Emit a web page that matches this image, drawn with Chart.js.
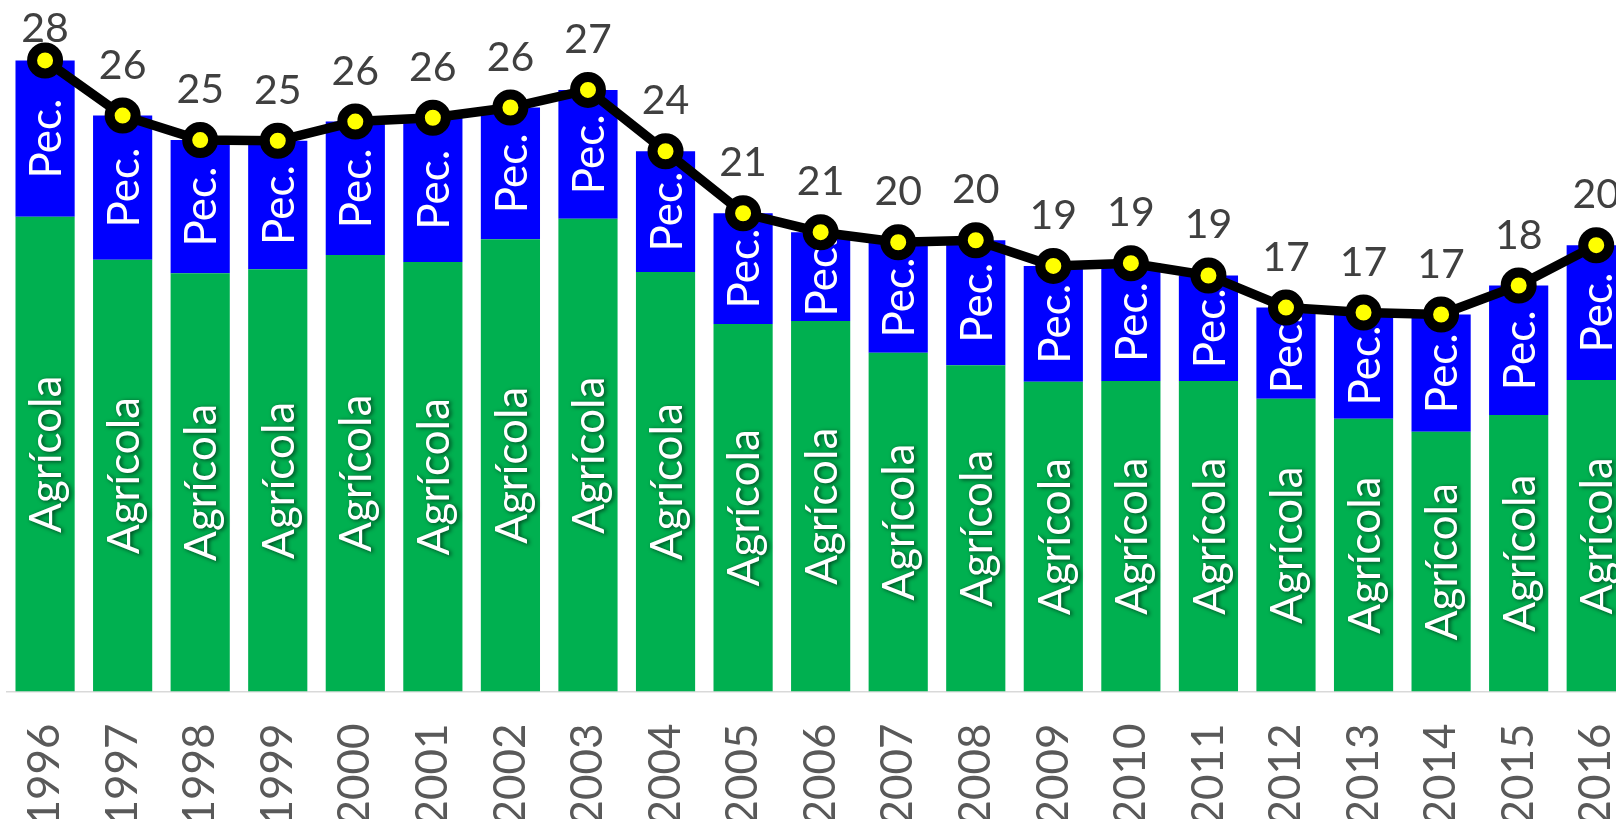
<!DOCTYPE html>
<html>
<head>
<meta charset="utf-8">
<script src="https://cdn.jsdelivr.net/npm/chart.js@4/dist/chart.umd.min.js"></script>
<style>
  html, body { margin: 0; padding: 0; background: #fff; overflow: hidden; }
  #wrap { position: relative; width: 1616px; height: 819px; overflow: hidden; }
  #chart { position: absolute; left: 0; top: 0; }
</style>
</head>
<body>
<div id="wrap"><canvas id="chart" width="1640" height="840"></canvas></div>
<script>
// --- datos ---
const years = ['1996', '1997', '1998', '1999', '2000', '2001', '2002', '2003', '2004', '2005',
  '2006', '2007', '2008', '2009', '2010', '2011', '2012', '2013', '2014', '2015', '2016'];
const agricola = [21.28, 19.36, 18.75, 18.93, 19.57, 19.26, 20.28, 21.19, 18.81, 16.48,
  16.61, 15.19, 14.63, 13.89, 13.92, 13.92, 13.12, 12.23, 11.64, 12.40, 13.96];
const pecuaria = [7.01, 6.46, 5.97, 5.76, 5.98, 6.46, 5.90, 5.78, 5.41, 4.96,
  3.98, 4.95, 5.60, 5.19, 5.28, 4.73, 4.09, 4.76, 5.26, 5.80, 6.05];
const total = [28.29, 25.82, 24.72, 24.69, 25.55, 25.72, 26.18, 26.97, 24.22, 21.44,
  20.59, 20.14, 20.23, 19.08, 19.20, 18.65, 17.21, 16.99, 16.90, 18.20, 20.01];

// rótulos dentro das barras (texto girado) e valores sobre a linha
const labelsPlugin = {
  id: 'rotulos',
  afterDatasetDraw(chart, args) {
    const ds = chart.data.datasets[args.index];
    if (ds.type === 'line') return;
    const ctx = chart.ctx;
    ctx.save();
    ctx.font = '44px Lato';
    ctx.fillStyle = '#ffffff';
    ctx.textAlign = 'center';
    ctx.textBaseline = 'middle';
    if (ds.label === 'Agrícola') {
      ctx.shadowColor = 'rgba(0,0,0,0.65)';
      ctx.shadowBlur = 4;
      ctx.shadowOffsetX = 2;
      ctx.shadowOffsetY = 1;
    }
    args.meta.data.forEach((bar) => {
      const yc = (bar.y + bar.base) / 2;
      ctx.save();
      ctx.translate(bar.x, yc);
      ctx.rotate(-Math.PI / 2);
      ctx.fillText(ds.label, 0, 2);
      ctx.restore();
    });
    ctx.restore();
  },
  afterDatasetsDraw(chart) {
    const ctx = chart.ctx;
    chart.data.datasets.forEach((ds, i) => {
      if (ds.type !== 'line') return;
      const meta = chart.getDatasetMeta(i);
      ctx.save();
      ctx.font = '41px Lato';
      ctx.fillStyle = '#404040';
      ctx.textAlign = 'center';
      ctx.textBaseline = 'alphabetic';
      meta.data.forEach((pt, j) => {
        const y = Math.max(pt.y - 37, 42);
        ctx.fillText(Math.round(ds.data[j]).toString(), pt.x, y);
      });
      ctx.restore();
    });
  }
};

const ctx = document.getElementById('chart').getContext('2d');
new Chart(ctx, {
  data: {
    labels: years,
    datasets: [
      {
        type: 'line',
        label: 'Total',
        data: total,
        stack: 'total',
        order: 0,
        borderColor: '#000000',
        borderWidth: 9.5,
        pointRadius: 13,
        pointBorderWidth: 10,
        pointBackgroundColor: '#FFFF00',
        pointBorderColor: '#000000',
        tension: 0,
        clip: false
      },
      {
        type: 'bar',
        label: 'Agrícola',
        data: agricola,
        stack: 'a',
        order: 1,
        backgroundColor: '#00B050'
      },
      {
        type: 'bar',
        label: 'Pec.',
        data: pecuaria,
        stack: 'a',
        order: 1,
        backgroundColor: '#0000FF'
      }
    ]
  },
  options: {
    responsive: false,
    devicePixelRatio: 1,
    animation: false,
    categoryPercentage: 0.763,
    barPercentage: 1,
    layout: { autoPadding: false, padding: { left: 6.3, right: 5, top: 0, bottom: 0 } },
    plugins: {
      legend: { display: false },
      tooltip: { enabled: false }
    },
    scales: {
      x: {
        stacked: true,
        grid: { display: false, drawTicks: false },
        border: { display: true, color: '#D9D9D9', width: 1.5 },
        ticks: {
          font: { family: 'Lato', size: 44 },
          color: '#595959',
          minRotation: 90,
          maxRotation: 90,
          padding: 32,
          autoSkip: false
        },
        afterFit: (s) => { s.height = 148.5; s.paddingLeft = 0; s.paddingRight = 0; }
      },
      y: {
        display: false,
        stacked: true,
        min: 0,
        max: 31
      }
    }
  },
  plugins: [labelsPlugin]
});
</script>
</body>
</html>
